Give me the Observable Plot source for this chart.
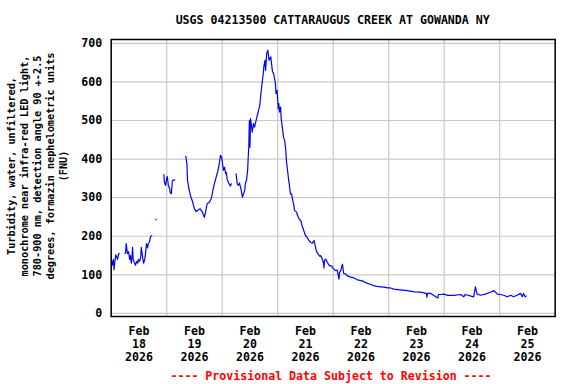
<!DOCTYPE html>
<html><head><meta charset="utf-8">
<script src="https://cdn.jsdelivr.net/npm/d3@7"></script>
<script src="https://cdn.jsdelivr.net/npm/@observablehq/plot@0.6"></script>
<style>
body{margin:0;background:#fff;}
#wrap{position:relative;width:576px;height:384px;}
</style></head><body><div id="wrap"></div>
<script>
const title = "USGS 04213500 CATTARAUGUS CREEK AT GOWANDA NY";
const yLabelLines = [
  "Turbidity, water, unfiltered,",
  "monochrome near infra-red LED light,",
  "780-900 nm, detection angle 90 +-2.5",
  "degrees, formazin nephelometric units",
  "(FNU)"
];
const footer = "---- Provisional Data Subject to Revision ----";
const yTicks = [0, 100, 200, 300, 400, 500, 600, 700];
const dayLabels = ["2026-02-18","2026-02-19","2026-02-20","2026-02-21","2026-02-22","2026-02-23","2026-02-24","2026-02-25"];
const dayLines = ["2026-02-18","2026-02-19","2026-02-20","2026-02-21","2026-02-22","2026-02-23","2026-02-24","2026-02-25","2026-02-26"];

// times as "DDTHH:MM" in Feb 2026; null value marks a data gap
const times = [
 "18T00:15","18T00:30","18T01:00","18T01:15","18T01:30","18T02:00","18T02:45","18T03:15","18T03:30",
 "18T04:30",
 "18T06:00","18T06:15","18T06:30","18T07:00","18T07:30","18T08:00","18T08:15","18T08:45","18T09:15","18T09:30",
 "18T10:00","18T10:30","18T11:00","18T11:30","18T11:45","18T12:15","18T12:45","18T13:00","18T13:30","18T14:00",
 "18T14:30","18T14:45","18T15:15","18T15:45","18T16:00","18T16:30","18T17:00","18T17:30",
 "18T18:00",
 "18T19:15","18T19:30",
 "18T20:00",
 "18T22:45","18T23:00","18T23:30","19T00:00","19T00:15","19T00:45","19T01:15","19T01:30","19T02:00","19T02:30","19T03:30",
 "19T05:00",
 "19T08:15","19T08:45","19T09:00","19T09:30","19T10:15","19T11:15","19T12:00","19T12:45","19T13:45","19T14:30",
 "19T15:30","19T16:15","19T16:45","19T17:30","19T18:30","19T19:15","19T20:15","19T21:00","19T22:00","19T22:45",
 "19T23:15","19T23:45","20T00:15","20T00:30","20T01:00","20T01:30","20T01:45","20T02:15","20T03:00","20T03:30","20T04:00",
 "20T05:00",
 "20T06:00","20T06:30","20T07:00","20T07:30","20T08:15","20T08:45","20T09:15","20T09:45","20T10:00","20T10:30",
 "20T11:00","20T11:15","20T11:30","20T11:45","20T12:00","20T12:15","20T13:00","20T13:30","20T14:00","20T15:00",
 "20T15:45","20T16:15","20T16:45","20T17:15","20T17:45","20T18:00","20T18:30","20T18:45","20T19:15","20T19:45",
 "20T20:15","20T21:00","20T21:15","20T21:45","20T22:15","20T22:30","20T23:00","20T23:15","20T23:45",
 "21T00:00","21T00:15","21T00:30","21T00:45","21T01:15","21T01:30","21T02:00","21T02:30","21T03:00","21T03:30",
 "21T03:45","21T04:15","21T04:45","21T05:00","21T05:30","21T06:00","21T06:30","21T07:00","21T07:15","21T08:15",
 "21T08:30","21T09:15","21T10:00","21T10:30","21T11:15","21T12:00","21T12:45","21T13:30","21T14:15","21T15:00",
 "21T15:45","21T16:30","21T17:00","21T17:45","21T18:15","21T18:30","21T19:00","21T19:15","21T19:45","21T20:00",
 "21T20:15","21T20:45","21T21:30","21T22:15","21T23:00","21T23:45",
 "22T00:15","22T01:00","22T01:45","22T02:30","22T02:45","22T03:15","22T04:00","22T04:30","22T05:30","22T06:00",
 "22T07:30","22T09:00","22T10:30","22T12:00","22T13:15","22T14:15","22T16:15","22T17:30","22T19:00","22T20:30",
 "22T22:00","22T23:30",
 "23T00:45","23T02:15","23T05:00","23T08:00","23T11:00","23T13:45","23T16:15","23T16:30","23T16:45","23T18:00",
 "23T21:15","23T21:30","23T22:30",
 "24T00:00","24T01:15","24T04:15","24T07:00","24T08:30","24T09:00","24T12:45","24T13:30","24T14:15","24T15:45",
 "24T17:45","24T20:00","24T21:30","24T23:00",
 "25T00:15","25T01:45","25T03:15","25T04:45","25T06:00","25T07:30","25T09:00","25T09:45","25T10:15","25T11:00","25T11:30"
];
const turbidity = [
 137,125,140,113,130,152,140,155,155,
 null,
 155,160,181,155,160,140,150,130,171,140,
 132,125,135,130,140,135,145,171,150,130,
 140,150,181,170,180,185,199,201,
 null,
 243,243,
 null,
 360,340,332,350,355,330,325,314,310,345,346,
 null,
 407,388,345,327,306,288,271,264,269,271,
 262,249,261,284,288,297,327,345,366,388,
 410,405,384,371,379,362,366,345,336,330,336,
 null,
 362,336,332,338,319,301,310,319,336,345,
 371,405,431,500,431,505,470,492,483,509,
 527,539,570,596,622,639,656,630,674,682,
 656,665,652,626,622,613,596,570,578,
 552,531,544,522,535,505,483,457,449,423,
 397,371,345,336,310,310,293,280,267,262,
 255,245,241,228,215,202,197,189,184,182,
 189,167,158,152,148,150,145,141,132,118,
 137,141,132,124,124,119,
 115,111,112,89,106,111,128,104,102,98,
 94,92,87,85,83,79,75,72,70,69,
 68,66,
 66,63,61,59,56,55,52,42,52,52,
 40,49,49,
 50,47,47,49,43,49,43,69,50,47,
 50,55,59,50,
 49,47,43,47,43,47,52,43,52,43,45
];

const parse = d3.utcParse("%Y-%m-%dT%H:%M");
const data = times.map((t, i) => ({date: parse("2026-02-" + t), value: turbidity[i]}));
const noons = dayLabels.map(d => parse(d + "T12:00"));
const midnights = dayLines.map(d => parse(d + "T00:00"));

const font = "DejaVu Sans Mono";
const chart = Plot.plot({
  width: 576, height: 384,
  marginLeft: 110.7, marginRight: 21.3, marginTop: 39, marginBottom: 68,
  x: {type: "utc", domain: [midnights[0], midnights[midnights.length - 1]]},
  y: {domain: [-8, 710]},
  style: {fontFamily: font, fontWeight: "bold", background: "#fff", color: "#000"},
  marks: [
    Plot.gridX(midnights, {stroke: "#c8c8c8", strokeOpacity: 1, strokeWidth: 1.2}),
    Plot.gridY(yTicks, {stroke: "#c8c8c8", strokeOpacity: 1, strokeWidth: 1.2}),
    Plot.line(data, {x: "date", y: "value", stroke: "#0000ff", strokeWidth: 1.2}),
    Plot.frame({stroke: "#000", strokeWidth: 1.5}),
    Plot.axisY(yTicks, {tickSize: 0, tickPadding: 9, tickFormat: d => String(d), fontSize: 11.6, fill: "#000", label: null}),
    Plot.axisX(noons, {tickSize: 0, tickPadding: 10, tickFormat: d3.utcFormat("%b\n%d\n%Y"), fontSize: 11.6, lineHeight: 1.09, fill: "#000", label: null})
  ]
});
document.getElementById("wrap").appendChild(chart);

const svg = d3.select(chart);
svg.append("text").attr("x", 332.7).attr("y", 23.5).attr("text-anchor", "middle")
  .attr("font-family", font).attr("font-weight", "bold").attr("font-size", 11.6).attr("fill", "#000")
  .text(title);
svg.append("text").attr("x", 331).attr("y", 379.5).attr("text-anchor", "middle")
  .attr("font-family", font).attr("font-weight", "bold").attr("font-size", 11.6).attr("fill", "#ff0000")
  .text(footer);
yLabelLines.forEach((line, i) => {
  svg.append("text")
    .attr("transform", `translate(${14.8 + i * 13},166) rotate(-90)`)
    .attr("text-anchor", "middle")
    .attr("font-family", font).attr("font-weight", "bold").attr("font-size", 10.2).attr("fill", "#000")
    .text(line);
});
</script></body></html>
